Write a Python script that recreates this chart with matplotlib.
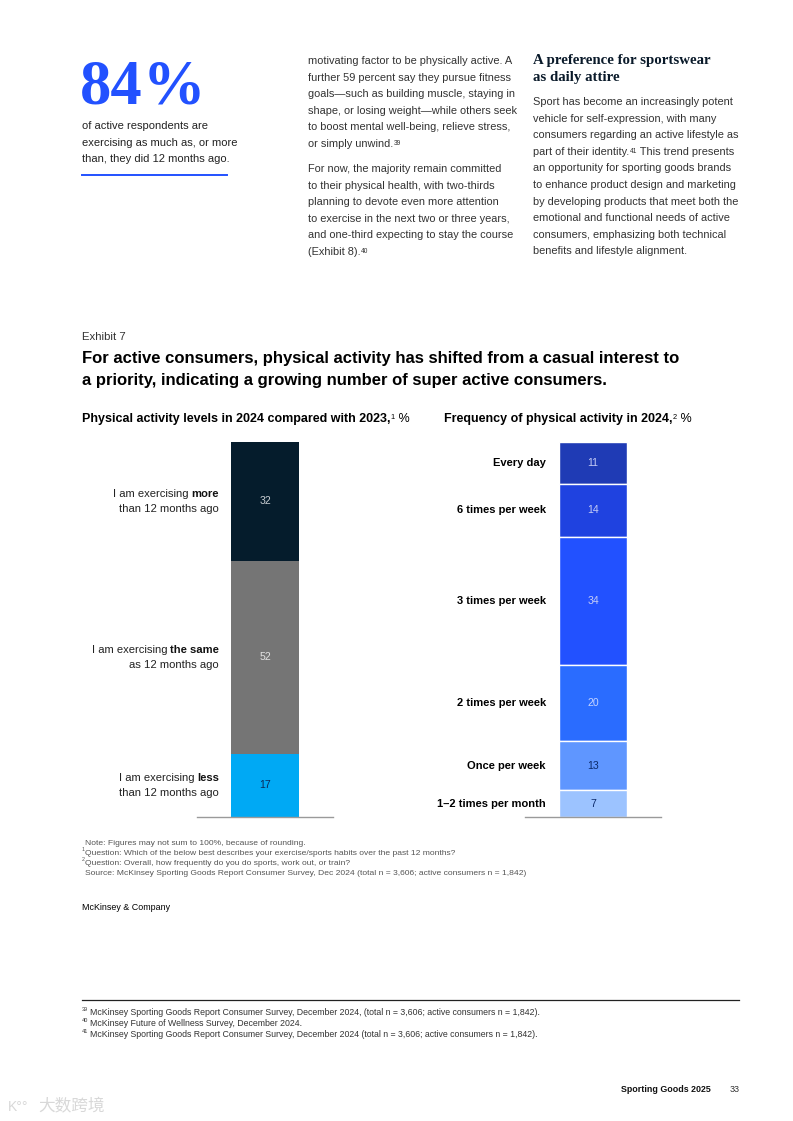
import matplotlib
matplotlib.use("Agg")
import matplotlib.pyplot as plt
import numpy as np

plt.rcParams['font.family'] = ['Liberation Sans', 'DejaVu Sans']

W, H = 793, 1121

# chart data
level_prefix = ["I am exercising ", "I am exercising ", "I am exercising "]
level_bold = ["more", "the same", "less"]
level_second = ["than 12 months ago", "as 12 months ago", "than 12 months ago"]
level_values = [32, 52, 17]

freq_labels = ["Every day", "6 times per week", "3 times per week",
               "2 times per week", "Once per week", "1–2 times per month"]
freq_values = [11, 14, 34, 20, 13, 7]

level_colors = ["#051C2C", "#757575", "#00A9F4"]
level_tcolors = ["#C9CED3", "#E2E2E2", "#0B2A5A"]
freq_colors = ["#1F3BB5", "#1F42E0", "#2251FF", "#2A6CFF", "#5F96FF", "#9CC3FF"]
freq_tcolors = ["#C5CCF5", "#C5CCF5", "#C5CCF5", "#C5D4FF", "#0B2A6A", "#0B2A6A"]

# page text
mid_lines = ["motivating factor to be physically active. A",
             "further 59 percent say they pursue fitness",
             "goals\u2014such as building muscle, staying in",
             "shape, or losing weight\u2014while others seek",
             "to boost mental well-being, relieve stress,"]
mid_lines2 = ["For now, the majority remain committed",
              "to their physical health, with two-thirds",
              "planning to devote even more attention",
              "to exercise in the next two or three years,",
              "and one-third expecting to stay the course"]
right_lines = ["Sport has become an increasingly potent",
               "vehicle for self-expression, with many",
               "consumers regarding an active lifestyle as"]
right_lines2 = ["an opportunity for sporting goods brands",
                "to enhance product design and marketing",
                "by developing products that meet both the",
                "emotional and functional needs of active",
                "consumers, emphasizing both technical",
                "benefits and lifestyle alignment."]

BODY = "#333333"
BS = 7.9  # body font size
fig = plt.figure(figsize=(W / 100, H / 100), dpi=100)
bg = fig.add_axes([0, 0, 1, 1])
bg.set_xlim(0, W)
bg.set_ylim(H, 0)
bg.axis('off')


def runs(x, y, parts, size=BS, color=BODY, **kw):
    # text runs on one baseline; parts are (text, style) where style in n/b/s
    base = None
    prev = None
    for s, st in parts:
        k = dict(color=color, fontsize=size, **kw)
        if st == 'b':
            k['weight'] = 'bold'
        if st == 's':
            k['fontsize'] = size * 0.6
        if prev is None:
            prev = bg.text(x, y, s, ha='left', va='baseline', **k)
            base = prev
            continue
        if st == 's':
            prev = bg.annotate(s, xy=(1, 1), xycoords=(prev, base), xytext=(0.3, -0.6),
                               textcoords='offset points', ha='left', va='top', **k)
        else:
            prev = bg.annotate(s, xy=(1, 0), xycoords=(prev, base), ha='left',
                               va='bottom', **k)
            base = prev
    return prev


# top left call-out
big = bg.text(80, 103, "84", fontsize=45, family='Liberation Serif', weight='bold',
              color="#2251FF", va='baseline')
bg.annotate("%", xy=(1, 0), xycoords=big, ha='left', va='bottom', fontsize=45,
            family='Liberation Serif', weight='bold', color="#2251FF")
for i, s in enumerate(["of active respondents are", "exercising as much as, or more",
                       "than, they did 12 months ago."]):
    bg.text(82, 129 + i * 16.5, s, fontsize=8.0, color="#222222", va='baseline')
bg.plot([82, 227], [175, 175], color="#2251FF", lw=1.4)

# middle column
step = 16.6
for i, s in enumerate(mid_lines):
    bg.text(308, 64 + i * step, s, fontsize=BS, color=BODY, va='baseline')
runs(308, 64 + 5 * step, [("or simply unwind.", 'n'), ("39", 's')])
for i, s in enumerate(mid_lines2):
    bg.text(308, 172 + i * step, s, fontsize=BS, color=BODY, va='baseline')
runs(308, 172 + 5 * step, [("(Exhibit 8).", 'n'), ("40", 's')])

# right column
bg.text(533, 64, "A preference for sportswear", fontsize=10.7, family='Liberation Serif',
        weight='bold', color="#0A1A2A", va='baseline')
bg.text(533, 81, "as daily attire", fontsize=10.7, family='Liberation Serif',
        weight='bold', color="#0A1A2A", va='baseline')
for i, s in enumerate(right_lines):
    bg.text(533, 105 + i * step, s, fontsize=BS, color=BODY, va='baseline')
runs(533, 105 + 3 * step, [("part of their identity.", 'n'), ("41", 's'),
                           (" This trend presents", 'n')])
for i, s in enumerate(right_lines2):
    bg.text(533, 105 + (4 + i) * step, s, fontsize=BS, color=BODY, va='baseline')

# exhibit header
bg.text(82, 340, "Exhibit 7", fontsize=8.2, color="#333333", va='baseline')
bg.text(82, 363, "For active consumers, physical activity has shifted from a casual interest to",
        fontsize=12.0, weight='bold', color="#000000", va='baseline')
bg.text(82, 385, "a priority, indicating a growing number of super active consumers.",
        fontsize=12.0, weight='bold', color="#000000", va='baseline')
runs(82, 422, [("Physical activity levels in 2024 compared with 2023,", 'b'), ("1", 's'),
               (" %", 'n')], size=9.0, color="#000000")
runs(444, 422, [("Frequency of physical activity in 2024,", 'b'), ("2", 's'),
                (" %", 'n')], size=9.0, color="#000000")


def bar_axes(x0, x1, y0, y1):
    ax = fig.add_axes([x0 / W, 1 - y1 / H, (x1 - x0) / W, (y1 - y0) / H])
    ax.patch.set_alpha(0)
    for sp in ['top', 'left', 'right']:
        ax.spines[sp].set_visible(False)
    ax.spines['bottom'].set_color("#9A9A9A")
    ax.spines['bottom'].set_linewidth(1.0)
    ax.set_xticks([])
    ax.set_yticks([])
    return ax


def stacked(ax, values, colors, tcolors, sep):
    vals = np.array(values, dtype=float)
    bottoms = np.concatenate([[0], np.cumsum(vals)[:-1]])
    ax.bar(np.full(len(vals), 0.5), vals, bottom=bottoms, width=0.5, color=colors,
           edgecolor='white' if sep else 'none', linewidth=1.0 if sep else 0)
    ax.set_xlim(0, 1)
    ax.set_ylim(vals.sum(), 0)
    centers = bottoms + vals / 2
    for c, v, tc in zip(centers, values, tcolors):
        ax.text(0.5, c, str(v), ha='center', va='center', fontsize=7.6, color=tc)
    return centers


ax1 = bar_axes(197, 333, 442, 817)
c1 = stacked(ax1, level_values, level_colors, level_tcolors, False)
for c, pre, b, sec in zip(c1, level_prefix, level_bold, level_second):
    bt = ax1.annotate(b, xy=(0.162, c), xytext=(0, 5.4), textcoords='offset points',
                      ha='right', va='center', fontsize=8.1, weight='bold', color="#111111")
    ax1.annotate(pre, xy=(0, 0.5), xycoords=bt, ha='right', va='center', fontsize=8.1,
                 color="#222222")
    ax1.annotate(sec, xy=(0.162, c), xytext=(0, -5.4), textcoords='offset points',
                 ha='right', va='center', fontsize=8.1, color="#222222")

ax2 = bar_axes(525, 661, 442, 817)
c2 = stacked(ax2, freq_values, freq_colors, freq_tcolors, True)
for c, lab in zip(c2, freq_labels):
    ax2.text(0.154, c, lab, ha='right', va='center', fontsize=8.0, weight='bold',
             color="#000000")

# notes
NS = 6.1
bg.text(85, 845, "Note: Figures may not sum to 100%, because of rounding.",
        fontsize=NS, color="#555555", va='baseline')
bg.text(82, 851, "1", fontsize=3.8, color="#555555", va='baseline')
bg.text(85, 855, "Question: Which of the below best describes your exercise/sports habits over the past 12 months?",
        fontsize=NS, color="#555555", va='baseline')
bg.text(82, 861, "2", fontsize=3.8, color="#555555", va='baseline')
bg.text(85, 865, "Question: Overall, how frequently do you do sports, work out, or train?",
        fontsize=NS, color="#555555", va='baseline')
bg.text(85, 875, "Source: McKinsey Sporting Goods Report Consumer Survey, Dec 2024 (total n = 3,606; active consumers n = 1,842)",
        fontsize=NS, color="#555555", va='baseline')
bg.text(82, 910, "McKinsey & Company", fontsize=6.4, color="#000000", va='baseline')

# footnotes
bg.plot([82, 739], [1000, 1000], color="#222222", lw=0.9)
foot = ["McKinsey Sporting Goods Report Consumer Survey, December 2024, (total n = 3,606; active consumers n = 1,842).",
        "McKinsey Future of Wellness Survey, December 2024.",
        "McKinsey Sporting Goods Report Consumer Survey, December 2024 (total n = 3,606; active consumers n = 1,842)."]
for i, (num, s) in enumerate(zip(["39", "40", "41"], foot)):
    y = 1015 + i * 11
    bg.text(82, y - 4, num, fontsize=4.0, color="#333333", va='baseline')
    bg.text(90, y, s, fontsize=6.3, color="#333333", va='baseline')

# page footer
bg.text(711, 1092, "Sporting Goods 2025", fontsize=6.4, weight='bold', color="#111111",
        ha='right', va='baseline')
bg.text(730, 1092, "33", fontsize=6.4, color="#333333", va='baseline')
bg.text(38, 1111, "大数跨境", fontsize=12, family=['Noto Sans CJK SC', 'DejaVu Sans'],
        color="#D8D8D8", va='baseline')
bg.text(8, 1111, "K\u00b0\u00b0", fontsize=10, color="#D8D8D8", va='baseline')

fig.savefig("out.png", dpi=100)
